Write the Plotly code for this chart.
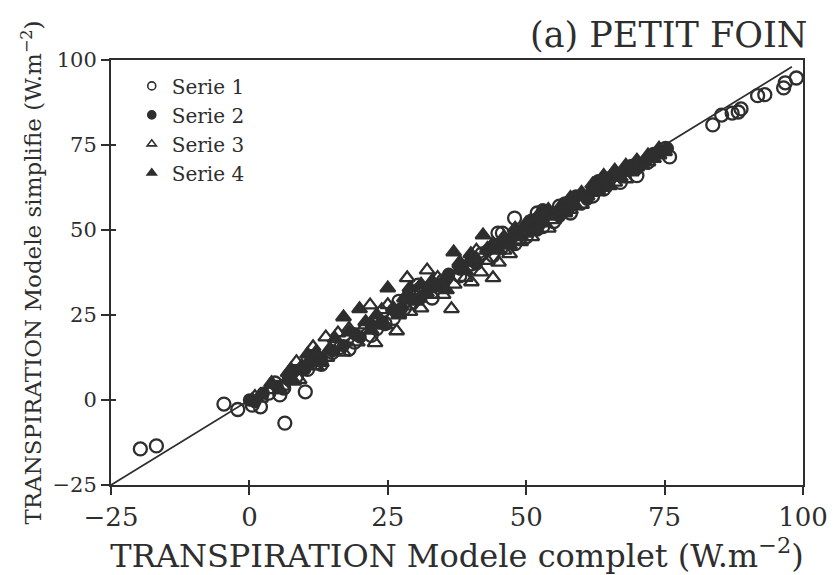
import plotly.graph_objects as go

# Transpiration: complete model (x) vs simplified model (y), W.m-2
s1_x = [-19.7, -16.8, -4.6, -2.1, 0.5, 2.0, 3.5, 4.6, 5.5, 6.2, 6.4, 8.5, 10.1, 10.5, 12.0, 13.0,
        15.0, 16.5, 18.0, 19.0, 22.0, 23.0, 24.5, 26.0, 27.0, 28.0, 29.0, 30.5, 31.0, 33.0, 35.0,
        38.0, 40.0, 42.0, 44.0, 44.9, 45.7, 47.9, 48.0, 50.0, 52.0, 53.0, 55.0, 56.0, 58.0, 60.0,
        62.0, 64.0, 65.0, 67.0, 70.0, 72.0, 75.2, 75.9, 83.7, 85.3, 87.2, 88.3, 88.8, 91.8, 93.1,
        96.5, 96.8, 98.8]
s1_y = [-14.4, -13.5, -1.2, -2.8, -1.5, -2.0, 2.0, 5.0, 1.5, 3.5, -6.8, 7.0, 2.4, 9.0, 11.0, 10.5,
        14.0, 15.5, 15.0, 17.0, 19.0, 21.0, 22.5, 24.0, 29.0, 27.0, 28.5, 33.8, 31.0, 30.0, 35.0,
        36.5, 40.0, 43.0, 42.5, 49.1, 49.1, 53.5, 46.0, 48.0, 55.0, 51.0, 52.5, 57.0, 55.0, 58.0,
        60.0, 62.0, 65.0, 64.0, 66.0, 70.0, 74.0, 71.5, 80.9, 83.8, 84.4, 84.7, 85.6, 89.5, 89.8,
        91.8, 93.3, 94.7]

s2_x = [0.0, 1.0, 2.5, 5.0, 7.0, 8.0, 10.0, 11.0, 13.0, 15.0, 17.0, 19.0, 20.0, 22.0, 24.0, 26.0,
        27.5, 29.0, 31.0, 33.0, 35.0, 36.0, 38.0, 40.0, 41.0, 43.0, 45.0, 46.0, 47.0, 48.0, 50.0,
        51.0, 52.0, 53.0, 54.0, 56.0, 57.0, 58.0, 59.0, 61.0, 62.0, 63.0, 64.0, 66.0, 68.0, 69.0,
        70.0, 72.0, 73.0, 74.5, 75.5]
s2_y = [0.0, -0.5, 2.0, 4.0, 6.0, 8.5, 9.0, 11.5, 12.0, 14.5, 16.0, 19.5, 18.5, 22.0, 23.0, 26.5,
        27.0, 30.0, 30.0, 33.5, 34.5, 37.0, 38.5, 41.0, 40.0, 44.0, 45.5, 47.0, 46.5, 49.0, 51.0,
        53.0, 50.0, 56.0, 55.0, 54.0, 58.0, 57.0, 60.0, 59.0, 62.0, 64.5, 63.0, 66.0, 67.5, 69.0,
        68.0, 71.0, 72.5, 73.0, 74.0]

s3_x = [1.0, 2.0, 4.0, 6.0, 7.5, 8.5, 9.0, 11.5, 12.0, 13.8, 14.0, 16.0, 17.0, 18.0, 19.5, 21.0,
        21.8, 22.7, 23.9, 24.5, 25.0, 26.6, 27.0, 28.5, 29.0, 30.0, 31.0, 32.1, 33.0, 34.0, 35.0,
        36.5, 37.0, 38.0, 39.0, 40.1, 41.0, 41.8, 43.0, 44.0, 45.0, 46.0, 47.0, 48.0, 49.0, 50.0,
        51.0, 53.0, 54.0, 55.0, 57.0, 58.0, 60.0, 62.0, 64.0, 66.0, 68.0, 70.0, 72.0, 74.0]
s3_y = [1.0, 0.5, 3.0, 4.0, 9.0, 11.2, 6.0, 15.6, 10.0, 18.5, 12.5, 19.7, 14.0, 21.0, 17.0, 22.0,
        27.9, 16.8, 26.5, 22.0, 28.0, 20.3, 25.0, 35.9, 26.0, 32.0, 27.0, 38.2, 31.0, 36.0, 31.0,
        26.8, 34.0, 40.0, 36.0, 34.7, 44.0, 37.6, 41.0, 35.9, 40.5, 44.0, 43.0, 47.0, 46.5, 49.0,
        48.0, 52.0, 50.5, 53.0, 55.0, 56.0, 57.5, 61.0, 62.5, 64.0, 65.0, 68.5, 70.0, 72.0]

s4_x = [0.5, 2.0, 4.0, 5.5, 7.0, 8.0, 9.5, 10.5, 12.0, 13.0, 14.5, 15.5, 17.0, 18.0, 19.9, 21.0,
        22.0, 23.0, 24.0, 25.0, 26.0, 27.0, 28.0, 29.0, 30.0, 31.0, 32.0, 33.0, 34.0, 35.6, 36.9,
        38.0, 39.0, 40.0, 41.0, 42.2, 43.0, 44.0, 45.0, 46.0, 47.0, 48.0, 49.0, 50.0, 51.0, 52.0,
        53.0, 54.0, 55.0, 56.0, 57.0, 58.0, 59.0, 60.0, 61.0, 62.0, 63.0, 64.0, 65.0, 66.0, 67.0,
        68.0, 69.0, 70.0, 71.0, 72.0, 73.0, 74.0, 75.0]
s4_y = [0.0, 1.5, 5.0, 3.0, 8.0, 5.5, 10.0, 13.5, 14.0, 11.0, 15.0, 18.0, 24.4, 20.0, 26.8, 23.0,
        20.5, 25.0, 22.0, 32.9, 27.0, 25.5, 30.0, 33.0, 29.0, 34.0, 31.5, 35.0, 33.0, 32.4, 43.5,
        40.5, 38.0, 43.0, 41.5, 48.5, 44.5, 46.0, 44.0, 48.0, 45.5, 50.5, 48.0, 52.0, 49.5, 54.0,
        52.5, 56.0, 54.0, 56.5, 55.5, 59.5, 57.0, 61.0, 60.0, 63.5, 61.5, 66.0, 63.0, 67.5, 65.5,
        69.0, 67.0, 70.5, 69.0, 72.0, 71.0, 74.0, 73.0]

# 1:1 reference line
line_x = [-25, 98]
line_y = [-25, 98]

tick_vals = [-25, 0, 25, 50, 75, 100]
tick_text = ["\u221225", "0", "25", "50", "75", "100"]
series_names = ["Serie 1", "Serie 2", "Serie 3", "Serie 4"]

INK = "#2e2e2e"
FONT = "DejaVu Serif"

series = [
    (s1_x, s1_y, "circle-open", 13),
    (s2_x, s2_y, "circle", 11),
    (s3_x, s3_y, "triangle-up-open", 13),
    (s4_x, s4_y, "triangle-up", 13),
]

fig = go.Figure()

fig.add_trace(go.Scatter(x=line_x, y=line_y, mode="lines",
                         line=dict(color=INK, width=1.8), showlegend=False,
                         hoverinfo="skip"))

for (xs, ys, sym, size), name in zip(series, series_names):
    fig.add_trace(go.Scatter(
        x=xs, y=ys, mode="markers", name=name, showlegend=False,
        marker=dict(symbol=sym, size=size, color=INK,
                    line=dict(color=INK, width=2.3)),
    ))
    # smaller legend glyph
    fig.add_trace(go.Scatter(
        x=[None], y=[None], mode="markers", name=name, showlegend=True,
        marker=dict(symbol=sym, size=8, color=INK,
                    line=dict(color=INK, width=1.6)),
    ))

axis_common = dict(
    range=[-25, 100], tickvals=tick_vals, ticktext=tick_text,
    showgrid=False, zeroline=False, showline=True, linecolor=INK,
    linewidth=2, ticks="outside", ticklen=8, tickwidth=2, tickcolor=INK,
    mirror=True, ticklabeloverflow="allow",
)

fig.update_layout(
    width=840, height=575,
    margin=dict(l=111, r=25, t=60, b=90),
    paper_bgcolor="white", plot_bgcolor="white",
    font=dict(family=FONT, color=INK),
    xaxis=dict(**axis_common,
               tickfont=dict(size=26, family=FONT, color=INK),
               title=dict(text="TRANSPIRATION Modele complet (W.m<sup>\u22122</sup>)",
                          font=dict(size=32, family=FONT, color=INK), standoff=2)),
    yaxis=dict(**axis_common,
               tickfont=dict(size=21, family=FONT, color=INK),
               title=dict(text="TRANSPIRATION Modele simplifie (W.m<sup>\u22122</sup>)",
                          font=dict(size=23, family=FONT, color=INK), standoff=4)),
    # inner halves of the crossing tick marks
    xaxis2=dict(range=[-25, 100], tickvals=tick_vals, showticklabels=False,
                overlaying="x", anchor="y", side="bottom", ticks="inside",
                ticklen=5, tickwidth=2, tickcolor=INK, showgrid=False,
                zeroline=False, showline=False),
    yaxis2=dict(range=[-25, 100], tickvals=tick_vals, showticklabels=False,
                overlaying="y", anchor="x", side="left", ticks="inside",
                ticklen=5, tickwidth=2, tickcolor=INK, showgrid=False,
                zeroline=False, showline=False),
    legend=dict(x=0.03, y=0.985, xanchor="left", yanchor="top",
                bgcolor="rgba(0,0,0,0)", font=dict(size=20, family=FONT, color=INK),
                itemwidth=30, tracegroupgap=0),
    annotations=[dict(text="(a) PETIT FOIN", xref="paper", yref="paper",
                      x=1.0, y=1.0, xanchor="right", yanchor="bottom",
                      xshift=6, yshift=3, showarrow=False,
                      font=dict(size=35, family=FONT, color=INK))],
    showlegend=True,
)

# dummy trace so the overlay axes are drawn
fig.add_trace(go.Scatter(x=[None], y=[None], xaxis="x2", yaxis="y2",
                         showlegend=False, hoverinfo="skip"))

fig.write_html("out.html")
